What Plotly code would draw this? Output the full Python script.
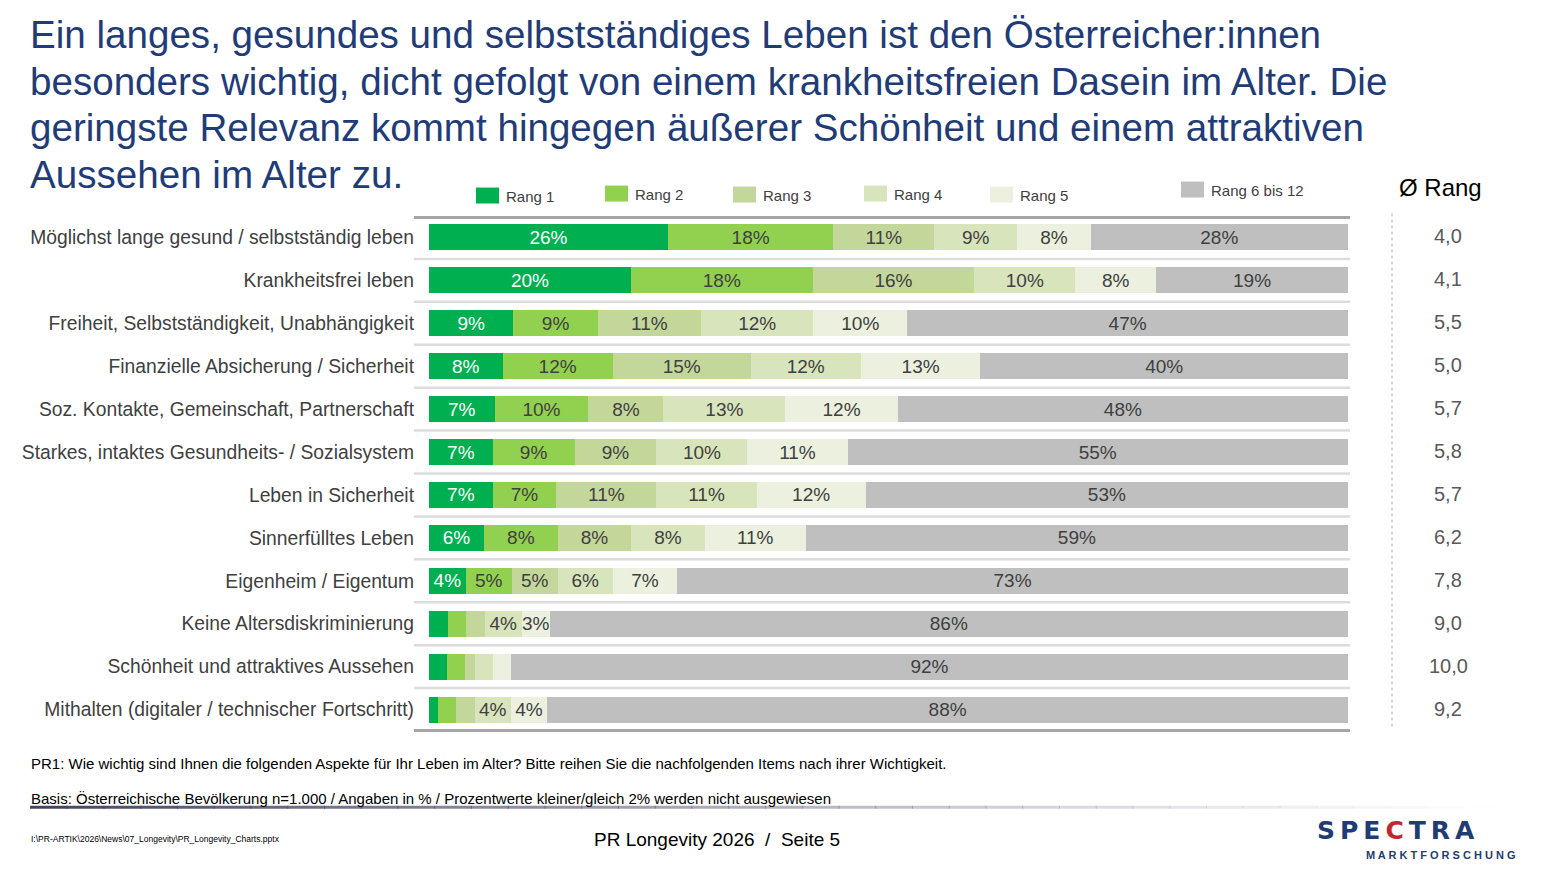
import plotly.graph_objects as go

# data
items = [
    'Möglichst lange gesund / selbstständig leben',
    'Krankheitsfrei leben',
    'Freiheit, Selbstständigkeit, Unabhängigkeit',
    'Finanzielle Absicherung / Sicherheit',
    'Soz. Kontakte, Gemeinschaft, Partnerschaft',
    'Starkes, intaktes Gesundheits- / Sozialsystem',
    'Leben in Sicherheit',
    'Sinnerfülltes Leben',
    'Eigenheim / Eigentum',
    'Keine Altersdiskriminierung',
    'Schönheit und attraktives Aussehen',
    'Mithalten (digitaler / technischer Fortschritt)',
]
rang1 = [26, 20, 9, 8, 7, 7, 7, 6, 4, 2, 2, 1]
rang2 = [18, 18, 9, 12, 10, 9, 7, 8, 5, 2, 2, 2]
rang3 = [11, 16, 11, 15, 8, 9, 11, 8, 5, 2, 1, 2]
rang4 = [9, 10, 12, 12, 13, 10, 11, 8, 6, 4, 2, 4]
rang5 = [8, 8, 10, 13, 12, 11, 12, 11, 7, 3, 2, 4]
rang6_12 = [28, 19, 47, 40, 48, 55, 53, 59, 73, 86, 92, 88]
avg_rank = ['4,0', '4,1', '5,5', '5,0', '5,7', '5,8', '5,7', '6,2', '7,8', '9,0', '10,0', '9,2']

series = [
    ('Rang 1', rang1, '#00B050', 'white'),
    ('Rang 2', rang2, '#92D050', '#404040'),
    ('Rang 3', rang3, '#C4D79B', '#404040'),
    ('Rang 4', rang4, '#D8E4BC', '#404040'),
    ('Rang 5', rang5, '#EBF1DE', '#404040'),
    ('Rang 6 bis 12', rang6_12, '#BFBFBF', '#404040'),
]

W, H = 1547, 870
OFF = 8                    # page body margin of the browser
L, R = 429 - OFF, 1348 - OFF
T, B = 215.5 - OFF, 731.5 - OFF


def px(x):
    return (x - OFF - L) / (R - L)


def py(y):
    return (B - (y - OFF)) / (B - T)


fig = go.Figure()
for name, vals, color, tcolor in series:
    fig.add_trace(go.Bar(
        y=items, x=vals, name=name, orientation='h',
        marker=dict(color=color, line=dict(width=0)),
        text=[f'{v}%' if v > 2 else '' for v in vals],
        textposition='inside', insidetextanchor='middle',
        textfont=dict(size=19, color=tcolor),
        hoverinfo='skip', showlegend=False,
    ))

shapes = []
# row separators
for i in range(len(items) - 1):
    shapes.append(dict(type='line', xref='paper', yref='y', x0=px(414), x1=px(1350),
                       y0=i + 0.5, y1=i + 0.5, line=dict(color='#DCDCDC', width=2.5)))
# top / bottom rules
for yy in (py(217), py(731)):
    shapes.append(dict(type='line', xref='paper', yref='paper', x0=px(414), x1=px(1350),
                       y0=yy, y1=yy, line=dict(color='#A6A6A6', width=3)))
# dotted divider for average rank column
shapes.append(dict(type='line', xref='paper', yref='paper', x0=px(1392), x1=px(1392),
                   y0=py(213), y1=py(727), line=dict(color='#C8C8C8', width=1.5, dash='dot')))
# gradient rule in footer
n = 40
for k in range(n):
    x0 = 30 + k * (1470 / n)
    shapes.append(dict(type='line', xref='paper', yref='paper', x0=px(x0), x1=px(x0 + 1470 / n + 1),
                       y0=py(808), y1=py(808),
                       line=dict(color=f'rgba(70,70,100,{max(0.0, 1 - k / n) ** 1.3:.3f})', width=3)))

annotations = []
# legend
legend_pos = [(476, 195, 'Rang 1'), (605, 193, 'Rang 2'), (733, 194, 'Rang 3'),
              (864, 193, 'Rang 4'), (990, 194, 'Rang 5'), (1181, 189, 'Rang 6 bis 12')]
for (lx, ly, lab), (_, _, color, _) in zip(legend_pos, series):
    shapes.append(dict(type='rect', xref='paper', yref='paper', x0=px(lx), x1=px(lx + 23),
                       y0=py(ly + 8), y1=py(ly - 8), fillcolor=color, line=dict(width=0)))
    annotations.append(dict(xref='paper', yref='paper', x=px(lx + 28), y=py(ly + 1), text=lab,
                            showarrow=False, xanchor='left', yanchor='middle',
                            font=dict(size=15, color='#404040')))

# average rank column
annotations.append(dict(xref='paper', yref='paper', x=px(1440), y=py(187), text='Ø Rang',
                        showarrow=False, xanchor='center', yanchor='middle',
                        font=dict(size=24, color='black')))
for item, val in zip(items, avg_rank):
    annotations.append(dict(xref='paper', yref='y', x=px(1448), y=item, yshift=1, text=val,
                            showarrow=False, xanchor='center', yanchor='middle',
                            font=dict(size=20, color='#595959')))

# title, one annotation per line
title_lines = [
    'Ein langes, gesundes und selbstständiges Leben ist den Österreicher:innen',
    'besonders wichtig, dicht gefolgt von einem krankheitsfreien Dasein im Alter. Die',
    'geringste Relevanz kommt hingegen äußerer Schönheit und einem attraktiven',
    'Aussehen im Alter zu.',
]
for j, line in enumerate(title_lines):
    annotations.append(dict(xref='paper', yref='paper', x=px(28), y=py(34 + j * 46.5), text=line,
                            showarrow=False, xanchor='left', yanchor='middle', align='left',
                            font=dict(size=38.6, color='#1F3C78')))

# footer
annotations += [
    dict(xref='paper', yref='paper', x=px(29), y=py(764),
         text='PR1: Wie wichtig sind Ihnen die folgenden Aspekte für Ihr Leben im Alter? '
              'Bitte reihen Sie die nachfolgenden Items nach ihrer Wichtigkeit.',
         showarrow=False, xanchor='left', yanchor='middle', font=dict(size=15, color='black')),
    dict(xref='paper', yref='paper', x=px(29), y=py(799),
         text='Basis: Österreichische Bevölkerung n=1.000 / Angaben in % / '
              'Prozentwerte kleiner/gleich 2% werden nicht ausgewiesen',
         showarrow=False, xanchor='left', yanchor='middle', font=dict(size=15, color='black')),
    dict(xref='paper', yref='paper', x=px(29), y=py(840),
         text='I:\\PR-ARTIK\\2026\\News\\07_Longevity\\PR_Longevity_Charts.pptx',
         showarrow=False, xanchor='left', yanchor='middle', font=dict(size=8.5, color='black')),
    dict(xref='paper', yref='paper', x=px(717), y=py(840),
         text='PR Longevity 2026  /  Seite 5',
         showarrow=False, xanchor='center', yanchor='middle', font=dict(size=19, color='black')),
    dict(xref='paper', yref='paper', x=px(1396), y=py(831),
         text='<b>S&#8201;P&#8201;E&#8201;<span style="color:#C0282D">C</span>&#8201;T&#8201;R&#8201;A</b>',
         showarrow=False, xanchor='center', yanchor='middle',
         font=dict(size=25, color='#1F3C74', family='DejaVu Sans')),
    dict(xref='paper', yref='paper', x=px(1441), y=py(856),
         text='<b>M A R K T F O R S C H U N G</b>',
         showarrow=False, xanchor='center', yanchor='middle',
         font=dict(size=11, color='#1F3C74')),
]

fig.update_layout(
    width=W, height=H,
    margin=dict(l=L, r=W - R, t=T, b=H - B, pad=0),
    barmode='stack', barnorm='percent', bargap=0.395,
    plot_bgcolor='white', paper_bgcolor='white',
    font=dict(family='Liberation Sans, Arial, sans-serif'),
    uniformtext=dict(minsize=19, mode='show'),
    shapes=shapes, annotations=annotations,
    showlegend=False,
)
fig.update_xaxes(range=[0, 100], visible=False, fixedrange=True)
fig.update_yaxes(autorange='reversed', showgrid=False, zeroline=False, showline=False,
                 ticks='', ticklabelstandoff=14, tickfont=dict(size=19.3, color='#404040'),
                 fixedrange=True)

fig.write_html('out.html', config={'displayModeBar': False})
